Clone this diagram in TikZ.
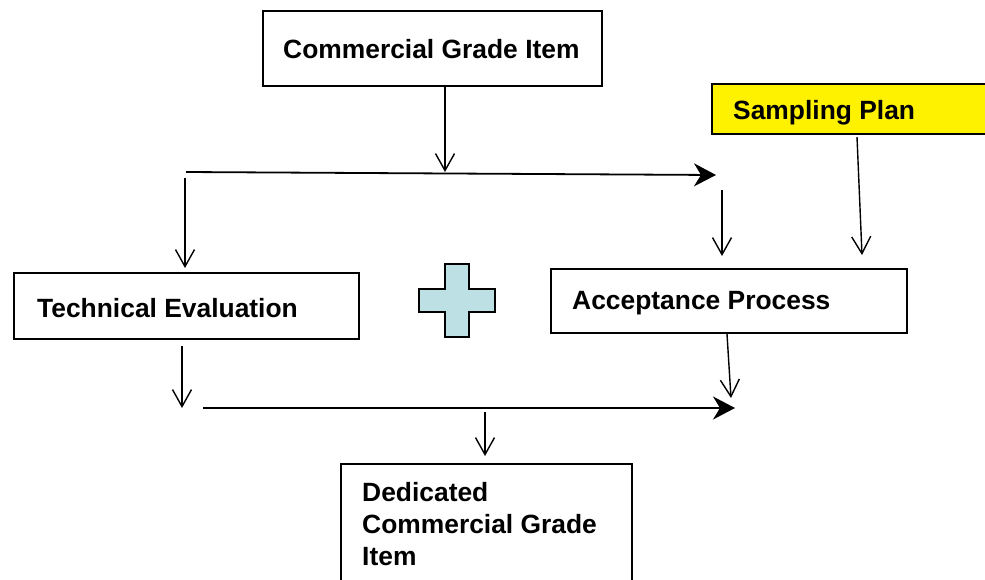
\documentclass[tikz,border=0pt]{standalone}
\usepackage{fontspec}
\setmainfont{Liberation Sans}
\usetikzlibrary{arrows.meta}
\definecolor{plusfill}{HTML}{BDE0E4}
\begin{document}
\begin{tikzpicture}[x=1pt,y=-1pt,
  boxstyle/.style={draw=black,line width=1.6pt,rectangle,inner sep=0pt,anchor=north west},
  lbl/.style={font=\fontsize{26.4}{32}\selectfont\bfseries,inner sep=0pt,anchor=base west,align=left},
  openarrow/.style={line width=1.4pt,-{Straight Barb[length=17pt,width=19pt,line width=1.4pt]}},
  bigarrow/.style={line width=1.8pt,-{Stealth[length=22pt,width=23pt,inset=7pt]}}]
\useasboundingbox (0,0) rectangle (985,579);
\clip (0,0) rectangle (985,579);
\fill[white] (0,0) rectangle (985,579);

% boxes
\node[boxstyle,minimum width=339pt,minimum height=75pt] (cgi) at (262,10) {};
\node[lbl] (cgit) at (283,58) {Commercial Grade Item};

\node[boxstyle,fill=yellow,minimum width=290pt,minimum height=50pt] (sp) at (711,83) {};
\node[lbl] (spt) at (733,119) {Sampling Plan};

\node[boxstyle,minimum width=345pt,minimum height=66pt] (te) at (13,272) {};
\node[lbl] (tet) at (37,317) {Technical Evaluation};

\node[boxstyle,minimum width=356pt,minimum height=64pt] (ap) at (550,268) {};
\node[lbl] (apt) at (572,309) {Acceptance Process};

\node[boxstyle,minimum width=291pt,minimum height=140pt] (dc) at (340,463) {};
\node[lbl] (dct) at (362,565) {Dedicated\\Commercial Grade\\Item};

% plus sign
\draw[line width=1.5pt,fill=plusfill]
  (445,264) -- (469,264) -- (469,289) -- (495,289) -- (495,312) -- (469,312)
  -- (469,337) -- (445,337) -- (445,312) -- (419,312) -- (419,289) -- (445,289) -- cycle;

% coordinates for connectors
\coordinate (a1s) at (445,86);
\coordinate (a1e) at (445,172);
\coordinate (h1s) at (186,172);
\coordinate (h1e) at (716,175);
\coordinate (l1s) at (185,178);
\coordinate (l1e) at (185,268);
\coordinate (r1s) at (722,190);
\coordinate (r1e) at (722,256);
\coordinate (s1s) at (857,137);
\coordinate (s1e) at (862,255);
\coordinate (t1s) at (182,346);
\coordinate (t1e) at (182,408);
\coordinate (h2s) at (203,408);
\coordinate (h2e) at (735,408);
\coordinate (p1s) at (727,334);
\coordinate (p1e) at (731,398);
\coordinate (d1s) at (485,412);
\coordinate (d1e) at (485,456);

% connectors
\draw[openarrow] (a1s) -- (a1e);
\draw[bigarrow] (h1s) -- (h1e);
\draw[openarrow] (l1s) -- (l1e);
\draw[openarrow] (r1s) -- (r1e);
\draw[openarrow] (s1s) -- (s1e);
\draw[openarrow] (t1s) -- (t1e);
\draw[bigarrow] (h2s) -- (h2e);
\draw[openarrow] (p1s) -- (p1e);
\draw[openarrow] (d1s) -- (d1e);
\end{tikzpicture}
\end{document}
